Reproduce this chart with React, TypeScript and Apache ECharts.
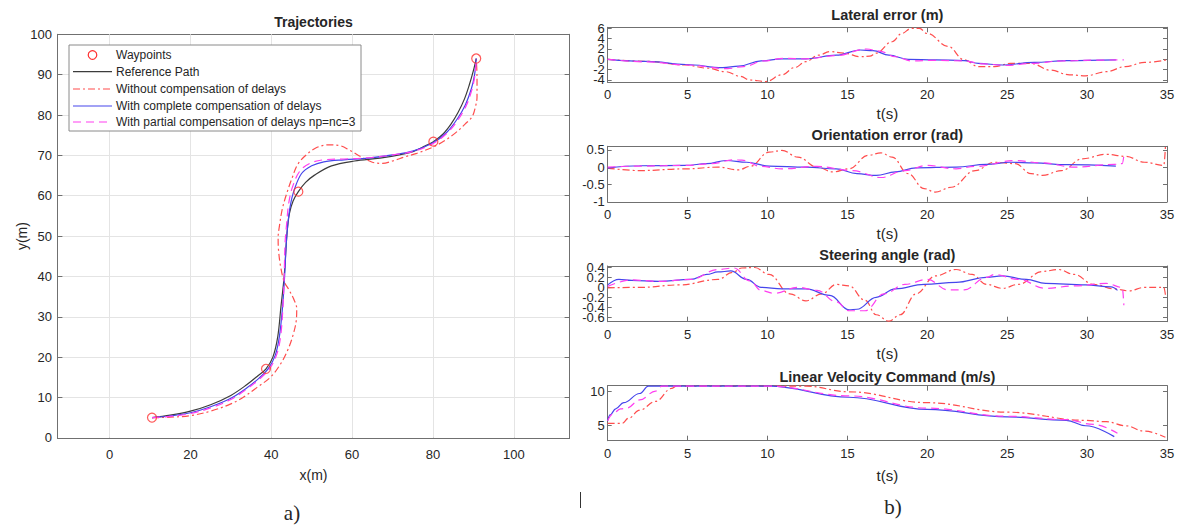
import React, { useEffect, useRef } from "react";
import * as echarts from "echarts";

// ---------------- data ----------------
const waypoints = [[10.5, 5], [38.7, 17.1], [46.7, 61], [80.1, 73.4], [90.7, 94]];

const refPath = [[10.5, 5], [15, 5.6], [20, 6.6], [25, 8.2], [30, 10.5], [34, 13.2], [36.5, 15.2], [38.7, 17.1], [40.4, 20], [41.6, 25], [42.4, 32.5], [43.2, 40], [43.9, 50.7], [44.5, 55.6], [45.4, 58.7], [46.7, 61], [48.5, 63.3], [50.7, 65.1], [54.9, 67.4], [60.6, 68.6], [66.9, 69.3], [72, 70.2], [75.2, 71], [78, 72.3], [80.1, 73.4], [82.5, 75.3], [84.5, 77.8], [86.2, 80.6], [87.8, 84], [89, 87.5], [90, 91], [90.7, 94]];

const pathNoComp = [[10.5, 5], [15, 5.1], [20, 5.5], [25, 6.6], [30, 8.4], [33, 10], [36.5, 12.5], [39.9, 15.1], [42.3, 18.3], [44.1, 21.8], [45.4, 25.5], [46.2, 29.2], [46.3, 32], [45.5, 34.5], [44.3, 36.8], [43.2, 38.7], [42.3, 42.5], [41.8, 46.5], [41.7, 49.5], [42.1, 53], [42.8, 57], [44.1, 61.4], [45.2, 64.5], [46.4, 67.5], [48.2, 69.7], [51, 71.8], [54, 72.6], [57, 72.4], [59.5, 71.2], [62.3, 69.6], [65, 68.3], [67.5, 68], [70, 68.6], [73, 69.6], [76, 70.5], [80.1, 72.1], [83, 73.7], [85.5, 75.5], [88, 77.8], [89.7, 79.6], [90.5, 82], [90.9, 84.5], [90.9, 89.5], [90.7, 94]];

const pathFullComp = [[10.5, 5], [15, 5.4], [20, 6.2], [25, 7.7], [30, 9.8], [34, 12.4], [37, 14.8], [39.3, 17.2], [41, 20.5], [42, 25], [42.8, 32.5], [43.3, 40], [43.7, 48], [44.1, 53], [44.7, 57.5], [45.7, 61.5], [47.5, 65.5], [50, 67.4], [53, 68.4], [58, 68.9], [64, 69.3], [70, 70.1], [75.2, 71.1], [80, 73.1], [83.5, 75.8], [86, 79], [88, 82.5], [89.5, 86.5], [90.3, 90], [90.7, 94]];

const pathPartComp = [[10.5, 5], [15, 5.3], [20, 6.0], [25, 7.4], [30, 9.5], [34, 12.1], [37, 14.5], [39.5, 17], [41.3, 20.5], [42.3, 25], [42.9, 32.5], [43.2, 40], [43.4, 48], [43.8, 53], [44.3, 58], [45.2, 62], [47, 66], [49.5, 68], [53, 68.9], [58, 69.1], [64, 69.4], [70, 70.1], [75.2, 71], [80, 72.9], [83.5, 75.5], [86.2, 78.8], [88.3, 82.5], [89.7, 86.5], [90.4, 90], [90.7, 94]];

const latNoComp = [[0, 0], [2.5, -0.4], [4.9, -1.1], [6.2, -1.7], [7.4, -2.4], [8.3, -3.3], [8.9, -4], [9.9, -4.3], [10.9, -3], [11.7, -1.6], [12.4, -0.45], [13.2, 0.8], [13.9, 1.5], [14.8, 1.2], [15.8, 0.5], [16.4, 0.6], [16.8, 1.2], [17.8, 3.4], [18.4, 5], [19.0, 6.0], [19.5, 6.0], [20, 5], [21.3, 2.5], [22.3, -0.1], [23.2, -1.4], [24.2, -1.4], [25.2, -0.8], [26.5, -0.8], [27.7, -2.1], [28.9, -3], [29.9, -3.2], [31.2, -2.4], [32.4, -1.4], [33.6, -0.6], [35, -0.1]];
const latFullComp = [[0, 0], [2.5, -0.4], [4.9, -1], [7.2, -1.6], [8.2, -1.3], [9.6, -0.3], [10.9, 0.1], [12.4, 0.1], [14.3, 0.8], [15.8, 1.8], [16.6, 1.7], [17.6, 0.8], [18.8, 0], [20.5, -0.1], [22.3, -0.25], [23.2, -0.8], [24.7, -1.1], [26.7, -0.6], [28.7, -0.25], [31.8, -0.1]];
const latPartComp = [[0, 0], [2.5, -0.5], [4.9, -1.1], [7.5, -1.8], [8.5, -1.4], [9.8, -0.3], [11, 0.2], [12.4, 0.1], [14.3, 0.7], [16.2, 2], [17, 1.6], [18, 0.5], [19, -0.3], [20.5, -0.2], [22.3, -0.3], [23.5, -0.9], [25, -1.2], [26.5, -0.8], [28.5, -0.3], [30.5, -0.15], [32.3, -0.1]];

const oriNoComp = [[0, -0.03], [2, -0.1], [4.9, -0.05], [6.9, 0], [8.2, -0.08], [8.9, 0.02], [10.1, 0.43], [10.9, 0.48], [11.9, 0.29], [13.1, 0], [14.1, -0.14], [15.1, -0.05], [16.3, 0.34], [17.1, 0.41], [17.8, 0.29], [18.8, -0.19], [19.8, -0.62], [20.5, -0.72], [21.5, -0.58], [23, -0.1], [24.2, 0.14], [25.5, 0.1], [26.5, -0.19], [27.2, -0.24], [28.4, -0.1], [29.7, 0.24], [31.2, 0.37], [32.4, 0.31], [33.6, 0.14], [34.8, 0.05], [34.9, 0.58]];
const oriFullComp = [[0, -0.03], [2, 0.04], [4.9, 0.05], [6.2, 0.1], [7.4, 0.19], [8.7, 0.14], [10.1, 0.03], [12.4, 0], [14.3, -0.05], [15.6, -0.19], [16.8, -0.24], [18, -0.14], [19.3, -0.02], [21.8, 0], [23.7, 0.08], [25.2, 0.14], [26.7, 0.12], [28.7, 0.07], [31.8, 0.03]];
const oriPartComp = [[0, 0], [2, 0.03], [4.9, 0.05], [6.5, 0.1], [7.9, 0.21], [8.4, 0.2], [9.6, 0.02], [10.9, -0.05], [13.1, 0.02], [15.3, -0.1], [17.1, -0.3], [18.6, -0.1], [20, 0.05], [21.8, -0.05], [23, 0.02], [25.5, 0.19], [27.2, 0.12], [29.2, 0], [31.7, 0.08], [32.2, 0.1], [32.3, 0.33]];

const steerNoComp = [[0, -0.01], [2, 0], [4.5, 0.05], [6.9, 0.16], [7.8, 0.3], [8.4, 0.39], [9.2, 0.4], [10.1, 0.26], [11.4, -0.13], [12.4, -0.27], [13.4, -0.13], [14.3, 0.06], [15.1, 0.03], [16.1, -0.26], [16.8, -0.55], [17.6, -0.68], [18.3, -0.55], [19.3, -0.13], [20.5, 0.23], [21.8, 0.36], [22.8, 0.26], [23.7, 0.06], [24.7, -0.02], [25.7, 0.06], [27.2, 0.32], [28.2, 0.36], [29.2, 0.26], [30.4, 0.06], [31.7, -0.03], [32.6, -0.07], [33.6, 0], [34.8, 0], [34.9, -0.15]];
const steerFullComp = [[0, 0.05], [0.7, 0.16], [1.5, 0.14], [3.2, 0.12], [5.2, 0.16], [6.2, 0.26], [6.9, 0.31], [7.7, 0.33], [8.7, 0.16], [9.6, 0], [10.9, -0.03], [12.4, -0.03], [13.9, -0.16], [15.1, -0.45], [15.6, -0.44], [16.8, -0.2], [18, -0.03], [19.8, 0.06], [21.8, 0.1], [23.7, 0.2], [24.7, 0.23], [26.2, 0.16], [27.4, 0.08], [29.9, 0.05], [31.5, 0.01], [31.9, -0.06]];
const steerPartComp = [[0, 0.02], [1.5, 0.15], [3.2, 0.12], [5.2, 0.16], [6.9, 0.36], [7.9, 0.39], [8.9, 0.13], [9.6, -0.06], [10.4, -0.12], [11.9, 0], [13.1, -0.06], [14.3, -0.29], [15.1, -0.47], [16.1, -0.47], [17.3, -0.13], [18.6, 0.06], [20, 0.16], [21.3, -0.05], [22.3, -0.05], [23.7, 0.2], [24.2, 0.26], [25.7, 0.16], [27.4, -0.02], [29.2, 0.03], [31.2, 0.08], [32.2, 0], [32.3, -0.36]];

const velNoComp = [[0, 5.25], [0.9, 5.25], [1.3, 6.0], [2, 7.2], [3, 8.5], [4, 10.4], [4.3, 10.73], [12.4, 10.73], [15.1, 9.9], [20, 8.3], [25, 6.9], [29.9, 5.7], [31.2, 5.5], [32.4, 4.9], [33.6, 4.1], [34.9, 3.2]];
const velFullComp = [[0, 5.7], [0.15, 6.5], [0.5, 7.4], [1, 8.3], [2, 9.65], [2.55, 10.73], [10.1, 10.73], [15.1, 9.1], [20, 7.3], [25, 6.2], [28.7, 5.7], [29.9, 4.9], [31.7, 3.3]];
const velPartComp = [[0, 5.6], [0.3, 6.6], [0.8, 7.4], [1.2, 7.5], [2, 8.7], [3, 10], [3.4, 10.73], [10.1, 10.73], [15.1, 9.3], [20, 7.5], [25, 6.3], [28.7, 5.8], [30.4, 5.1], [31.9, 3.8]];

const trajXTicks = [0, 20, 40, 60, 80, 100];
const trajYTicks = [0, 10, 20, 30, 40, 50, 60, 70, 80, 90, 100];
const timeTicks = [0, 5, 10, 15, 20, 25, 30, 35];
const latTicks = [-4, -2, 0, 2, 4, 6];
const oriTicks = [-1, -0.5, 0, 0.5];
const steerTicks = [-0.6, -0.4, -0.2, 0, 0.2, 0.4];
const velTicks = [5, 10];

const legendLabels = [
  "Waypoints",
  "Reference Path",
  "Without compensation of delays",
  "With complete compensation of delays",
  "With partial compensation of delays np=nc=3",
];
const subTitles = ["Lateral error (m)", "Orientation error (rad)", "Steering angle (rad)", "Linear Velocity Command (m/s)"];

// ---------------- style ----------------
const FONT = '"Liberation Sans", Arial, Helvetica, sans-serif';
const AX = "#707070";
const TXT = "#262626";
const GRIDC = "#e4e4e4";
const C_RED = "#ff4d4d";
const C_BLUE = "#4646ec";
const C_MAG = "#ff3ef0";
const C_BLACK = "#3c3c3c";
const DASHDOT = [7, 3, 2, 3];
const DASHED = [8, 5];

const LEFT = { left: 57.4, top: 34.3, width: 512.2, height: 403.5 };
const RX = 607.7;
const RW = 559.3;
const rightBoxes = [
  { top: 27.3, height: 55 },
  { top: 146.3, height: 55.5 },
  { top: 266, height: 55.7 },
  { top: 385.7, height: 55 },
];
const rightRanges = [
  [-4.45, 6.2],
  [-1, 0.6],
  [-0.69, 0.43],
  [2.7, 10.8],
];
const rightTicks = [latTicks, oriTicks, steerTicks, velTicks];
// crowded label sets are split over two overlaid axes so none is dropped
const crowded = [true, false, true, false];

function labelCfg(show: boolean, ticks: number[], margin: number) {
  return {
    show, customValues: ticks, margin, fontSize: 13, color: TXT, fontFamily: FONT,
    hideOverlap: false, interval: 0, showMinLabel: true, showMaxLabel: true,
  };
}

function xAx(gi: number, min: number, max: number, ticks: number[], labels: boolean, pos: string, margin: number, tickLen: number) {
  return {
    type: "value", gridIndex: gi, min, max, position: pos,
    axisLine: { show: true, onZero: false, lineStyle: { color: AX, width: 1 } },
    axisTick: { show: true, inside: true, length: tickLen, customValues: ticks, interval: 0, lineStyle: { color: AX, width: 1 } },
    axisLabel: labelCfg(labels, ticks, margin),
    splitLine: { show: false },
  };
}
function yAx(gi: number, min: number, max: number, ticks: number[], labelTicks: number[] | null, pos: string, margin: number, tickLen: number, split: boolean, showLine = true) {
  return {
    type: "value", gridIndex: gi, min, max, position: pos,
    ...(split ? { interval: 10 } : {}),
    axisLine: { show: showLine, onZero: false, lineStyle: { color: AX, width: 1 } },
    axisTick: { show: showLine, inside: true, length: tickLen, customValues: ticks, interval: 0, lineStyle: { color: AX, width: 1 } },
    axisLabel: labelCfg(!!labelTicks, labelTicks || ticks, margin),
    splitLine: { show: split, lineStyle: { color: GRIDC, width: 1 } },
  };
}

function line(name: string, data: number[][], color: string, dash: any, gi: number, smooth: number, z: number, mono: boolean) {
  return {
    name, type: "line", data, xAxisIndex: gi, yAxisIndex: gi,
    showSymbol: false, symbol: "none", smooth, ...(mono ? { smoothMonotone: "x" } : {}),
    lineStyle: { color, width: 1.2, type: dash },
    z, silent: true, clip: true,
  };
}

function txt(text: string, x: number, y: number, size: number, extra: any = {}) {
  return {
    type: "text", x, y, z: 100, silent: true, ...extra,
    style: {
      text, x: 0, y: 0, fill: TXT, font: `${extra.bold ? "bold " : ""}${size}px ${extra.family || FONT}`,
      align: extra.align || "center", verticalAlign: "middle",
      textAlign: extra.align || "center", textVerticalAlign: "middle",
    },
  };
}

function buildOption() {
  const grids: any[] = [{ ...LEFT, outerBoundsMode: "none" }];
  rightBoxes.forEach((b) => grids.push({ left: RX, width: RW, top: b.top, height: b.height, outerBoundsMode: "none" }));

  const xAxes: any[] = [xAx(0, -12.9, 113.8, trajXTicks, true, "bottom", 10, 5)];
  rightBoxes.forEach((_, i) => xAxes.push(xAx(i + 1, 0, 35, timeTicks, true, "bottom", 6, 5)));
  xAxes.push(xAx(0, -12.9, 113.8, trajXTicks, false, "top", 8, 5));
  rightBoxes.forEach((_, i) => xAxes.push(xAx(i + 1, 0, 35, timeTicks, false, "top", 6, 5)));

  const yAxes: any[] = [yAx(0, 0, 100, trajYTicks, trajYTicks, "left", 5.5, 5, true)];
  rightBoxes.forEach((_, i) => {
    const t = rightTicks[i];
    const lbl = crowded[i] ? t.filter((_, k) => k % 2 === 0) : t;
    yAxes.push(yAx(i + 1, rightRanges[i][0], rightRanges[i][1], t, lbl, "left", 3, 4, false));
  });
  yAxes.push(yAx(0, 0, 100, trajYTicks, null, "right", 5, 5, false));
  rightBoxes.forEach((_, i) => yAxes.push(yAx(i + 1, rightRanges[i][0], rightRanges[i][1], rightTicks[i], null, "right", 3, 4, false)));
  rightBoxes.forEach((_, i) => {
    if (!crowded[i]) return;
    const t = rightTicks[i];
    yAxes.push(yAx(i + 1, rightRanges[i][0], rightRanges[i][1], t, t.filter((_, k) => k % 2 === 1), "left", 3, 4, false, false));
  });

  const series: any[] = [
    {
      type: "line", data: [[0, 0]], xAxisIndex: 0, yAxisIndex: 0, showSymbol: false, symbol: "none",
      lineStyle: { opacity: 0 }, silent: true, z: 1,
      markLine: {
        silent: true, symbol: "none", z: 1, animation: false,
        label: { show: false },
        lineStyle: { color: GRIDC, type: "solid", width: 1 },
        data: trajXTicks.map((v) => ({ xAxis: v })),
      },
    },
    line("Reference Path", refPath, C_BLACK, "solid", 0, 0.35, 3, false),
    line("Without compensation of delays", pathNoComp, C_RED, DASHDOT, 0, 0.35, 4, false),
    line("With complete compensation of delays", pathFullComp, C_BLUE, "solid", 0, 0.35, 5, false),
    line("With partial compensation of delays np=nc=3", pathPartComp, C_MAG, DASHED, 0, 0.35, 6, false),
    {
      name: "Waypoints", type: "scatter", data: waypoints, xAxisIndex: 0, yAxisIndex: 0,
      symbol: "circle", symbolSize: 9, z: 10, silent: true,
      itemStyle: { color: "rgba(0,0,0,0)", borderColor: "#ff3030", borderWidth: 1.2 },
    },
  ];
  const rightData = [
    [latNoComp, latFullComp, latPartComp],
    [oriNoComp, oriFullComp, oriPartComp],
    [steerNoComp, steerFullComp, steerPartComp],
    [velNoComp, velFullComp, velPartComp],
  ];
  rightData.forEach((d, i) => {
    const gi = i + 1;
    series.push(line("no" + gi, d[0], C_RED, DASHDOT, gi, 0.4, 3, true));
    series.push(line("full" + gi, d[1], C_BLUE, "solid", gi, 0.4, 4, true));
    series.push(line("part" + gi, d[2], C_MAG, DASHED, gi, 0.4, 5, true));
  });

  // graphic: titles, axis names, legend, panel labels
  const RC = RX + RW / 2;
  const g: any[] = [];
  g.push(txt("Trajectories", LEFT.left + LEFT.width / 2, 22, 14, { bold: true }));
  g.push(txt("x(m)", LEFT.left + LEFT.width / 2, 474.5, 14));
  g.push(txt("y(m)", 22, LEFT.top + LEFT.height / 2, 14, { rotation: Math.PI / 2 }));
  const titleY = [15, 134.5, 254.5, 376.7];
  const tsY = [113, 233, 353.5, 475];
  subTitles.forEach((t, i) => {
    g.push(txt(t, RC, titleY[i], 14.5, { bold: true }));
    g.push(txt("t(s)", RC, tsY[i], 15));
  });
  g.push(txt("a)", 292, 513, 21, { family: '"Liberation Serif", "Times New Roman", serif' }));
  g.push(txt("b)", 893, 507, 21, { family: '"Liberation Serif", "Times New Roman", serif' }));
  g.push({ type: "line", z: 100, silent: true, shape: { x1: 580.5, y1: 492, x2: 580.5, y2: 508 }, style: { stroke: "#333", lineWidth: 1 } });

  // legend box
  const lx = 69, ly = 45, lw = 292, lh = 86;
  g.push({ type: "rect", z: 90, silent: true, shape: { x: lx, y: ly, width: lw, height: lh }, style: { fill: "#fff", stroke: "#8a8a8a", lineWidth: 1 } });
  const rowY = [55, 71.7, 89, 106, 122];
  const x1 = 73, x2 = 112;
  g.push({ type: "circle", z: 101, silent: true, shape: { cx: (x1 + x2) / 2, cy: rowY[0], r: 4.3 }, style: { fill: "none", stroke: "#ff3030", lineWidth: 1.2 } });
  const legendStyles = [
    null,
    { stroke: C_BLACK, dash: null },
    { stroke: C_RED, dash: DASHDOT },
    { stroke: C_BLUE, dash: null },
    { stroke: C_MAG, dash: DASHED },
  ];
  legendStyles.forEach((s, i) => {
    if (s) {
      g.push({ type: "line", z: 101, silent: true, shape: { x1, y1: rowY[i], x2, y2: rowY[i] }, style: { stroke: s.stroke, lineWidth: 1.2, lineDash: s.dash || undefined } });
    }
    g.push(txt(legendLabels[i], 116, rowY[i], 12, { align: "left" }));
  });

  return {
    animation: false,
    backgroundColor: "#ffffff",
    textStyle: { fontFamily: FONT },
    grid: grids,
    xAxis: xAxes,
    yAxis: yAxes,
    series,
    graphic: { elements: g },
  };
}

export default function App() {
  const ref = useRef<HTMLDivElement>(null);
  useEffect(() => {
    if (!ref.current) return;
    const chart = echarts.init(ref.current, null, { renderer: "svg" });
    chart.setOption(buildOption() as any);
    return () => chart.dispose();
  }, []);
  return <div ref={ref} style={{ position: "fixed", left: 0, top: 0, width: 1180, height: 526, background: "#fff" }} />;
}
